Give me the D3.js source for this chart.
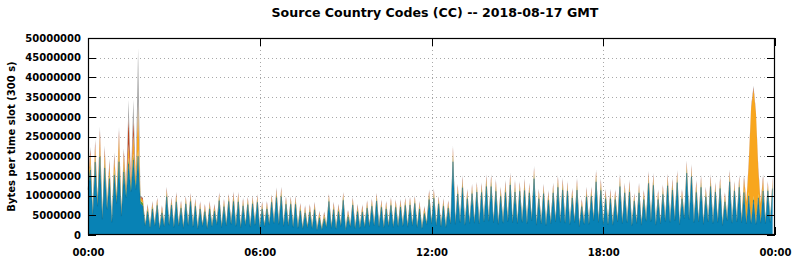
<!DOCTYPE html>
<html>
<head>
<meta charset="utf-8">
<title>Source Country Codes (CC)</title>
<style>
body { margin: 0; background: #fff; }
text { font-family: "DejaVu Sans", sans-serif; font-weight: bold; fill: #000; }
.grid line { stroke: #a8a8a8; stroke-dasharray: 1,3; shape-rendering: crispEdges; }
.axis line { stroke: #000; shape-rendering: crispEdges; }
.axis path { display: none; }
</style>
</head>
<body>
<script src="https://d3js.org/d3.v7.min.js"></script>
<script>

// Bytes per 300 s slot, in millions, 288 slots starting 2018-08-17 00:00 GMT
var blue = [
  11.5,16.5,4.8,18.5,7.3,19.8,4.0,17.0,6.5,14.3,3.2,15.2,8.0,18.6,4.8,16.0,
  9.5,18.0,11.0,19.0,11.5,20.0,8.0,7.4,2.3,5.9,1.8,6.6,2.3,7.5,1.5,5.6,
  2.1,9.7,2.5,7.6,1.9,8.4,2.3,6.8,1.7,7.9,2.4,8.5,2.0,7.3,1.5,6.6,
  2.2,5.9,1.6,6.6,2.1,6.0,2.6,8.7,1.9,7.2,2.3,8.5,2.7,8.5,2.2,8.4,
  1.8,7.4,2.4,7.7,2.0,7.9,2.5,8.3,1.7,6.6,2.1,6.6,2.6,8.3,2.9,9.5,
  2.7,9.7,2.2,7.8,2.3,7.8,1.9,7.8,1.7,6.1,1.5,5.6,1.8,5.8,1.6,6.4,
  1.2,4.3,1.3,4.1,1.9,8.5,1.7,6.4,1.5,5.9,2.2,8.8,1.3,4.6,2.0,7.6,
  1.6,5.9,1.7,5.8,1.9,6.8,2.1,7.3,2.3,8.6,2.0,7.0,1.8,6.6,2.2,7.5,
  1.9,7.0,2.1,7.1,2.2,7.5,2.0,7.6,2.3,8.0,1.9,6.6,1.6,5.4,2.6,9.0,
  2.8,9.3,2.3,7.9,2.1,7.3,1.9,6.8,2.8,18.6,2.7,10.4,3.1,12.0,2.5,9.2,
  2.9,10.5,3.0,10.9,2.8,10.8,3.3,12.3,3.5,12.3,3.1,11.1,2.7,9.8,3.0,10.8,
  3.4,12.7,3.1,10.9,2.9,11.1,3.2,11.3,2.8,10.7,3.6,14.3,2.5,9.2,2.8,10.5,
  2.4,8.8,2.8,10.7,3.3,12.1,3.2,11.4,3.0,11.2,2.6,9.4,3.2,11.4,2.1,7.2,
  2.7,9.7,2.7,9.8,3.6,13.5,3.2,11.3,2.6,9.2,2.6,9.2,2.5,9.0,3.3,12.3,
  2.9,10.7,3.1,10.9,2.3,8.6,2.9,10.7,2.5,9.0,3.5,13.1,3.4,12.6,2.5,9.0,
  2.8,10.3,3.4,12.5,3.2,11.4,3.6,13.3,2.6,9.2,4.1,15.7,3.9,14.8,3.1,10.8,
  3.3,12.1,2.7,9.7,3.3,12.3,2.9,10.9,3.2,11.8,2.4,8.4,3.6,13.5,3.0,11.2,
  3.3,12.1,3.1,10.8,2.8,9.9,2.9,8.9,2.7,9.4,3.0,11.2,2.9,11.2,3.2,11.8
];
var green = [
  0.8,1.6,0.4,1.5,0.6,2.0,0.4,1.6,0.5,1.4,0.3,1.5,0.7,2.0,0.4,1.6,
  0.8,1.6,0.9,1.6,0.9,1.6,0.7,0.8,0.3,0.8,0.3,0.8,0.3,0.8,0.3,0.7,
  0.3,1.0,0.3,0.8,0.3,1.0,0.3,0.8,0.3,0.8,0.3,0.9,0.3,0.8,0.3,0.7,
  0.3,0.8,0.3,0.8,0.3,0.7,0.3,0.9,0.3,0.8,0.3,0.8,0.3,1.0,0.3,1.0,
  0.3,0.8,0.3,0.8,0.3,0.9,0.3,0.8,0.3,0.7,0.3,0.8,0.3,0.8,0.3,1.0,
  0.3,1.0,0.3,0.8,0.3,0.8,0.3,0.9,0.3,0.8,0.2,0.7,0.3,0.8,0.3,0.8,
  0.2,0.7,0.2,0.7,0.3,0.8,0.3,0.8,0.3,0.8,0.3,0.9,0.2,0.7,0.3,0.8,
  0.3,0.8,0.3,0.7,0.3,0.8,0.3,0.8,0.3,0.9,0.3,0.8,0.3,0.8,0.3,0.8,
  0.3,0.8,0.3,0.8,0.3,0.8,0.3,0.9,0.3,0.8,0.3,0.8,0.2,0.7,0.3,1.0,
  0.3,1.0,0.3,0.8,0.3,0.8,0.3,0.8,0.3,1.6,0.3,1.0,0.3,1.2,0.3,1.0,
  0.3,1.0,0.3,1.1,0.3,1.0,0.4,1.2,0.4,1.2,0.3,1.2,0.3,1.0,0.3,1.2,
  0.4,1.2,0.3,1.2,0.3,1.0,0.3,1.2,0.3,1.0,0.4,1.3,0.3,1.0,0.3,1.0,
  0.3,1.0,0.3,1.0,0.4,1.2,0.3,1.2,0.3,1.0,0.3,1.0,0.3,1.2,0.3,0.8,
  0.3,1.0,0.3,1.0,0.4,1.2,0.3,1.2,0.3,1.0,0.3,1.0,0.3,1.0,0.4,1.2,
  0.3,1.0,0.3,1.2,0.3,0.8,0.3,1.0,0.3,1.0,0.4,1.2,0.4,1.2,0.3,1.0,
  0.3,1.0,0.4,1.2,0.3,1.2,0.4,1.2,0.3,1.0,0.4,1.3,0.4,1.2,0.3,1.2,
  0.3,1.2,0.3,1.0,0.4,1.2,0.3,1.0,0.3,1.2,0.3,1.0,0.4,1.2,0.3,1.0,
  0.3,1.2,0.3,1.2,0.3,1.0,0.3,1.0,0.3,1.0,0.3,1.2,0.3,1.0,0.3,1.2
];
var orange = [
  1.0,2.4,0.5,2.5,0.7,3.4,0.4,2.3,0.6,2.0,0.3,2.5,0.8,4.5,0.5,2.6,
  1.0,3.5,1.2,5.0,1.5,11.4,0.8,0.7,0.2,0.5,0.2,0.5,0.2,0.5,0.2,0.5,
  0.2,0.6,0.2,0.5,0.2,0.6,0.2,0.5,0.2,0.5,0.2,0.5,0.2,0.5,0.2,0.5,
  0.2,0.5,0.2,0.5,0.2,0.5,0.2,0.5,0.2,0.5,0.2,0.5,0.2,0.6,0.2,0.6,
  0.2,0.5,0.2,0.5,0.2,0.5,0.2,0.5,0.2,0.5,0.2,0.5,0.2,0.5,0.2,0.6,
  0.2,0.6,0.2,0.5,0.2,0.5,0.2,0.5,0.2,0.5,0.2,0.5,0.2,0.5,0.2,0.5,
  0.2,0.5,0.2,0.5,0.2,0.5,0.2,0.5,0.2,0.5,0.2,0.5,0.2,0.5,0.2,0.5,
  0.2,0.5,0.2,0.5,0.2,0.5,0.2,0.5,0.2,0.5,0.2,0.5,0.2,0.5,0.2,0.5,
  0.2,0.5,0.2,0.5,0.2,0.5,0.2,0.5,0.2,0.5,0.2,0.5,0.2,0.5,0.2,0.6,
  0.2,0.6,0.2,0.5,0.2,0.5,0.2,0.5,0.2,1.0,0.2,0.6,0.2,0.8,0.2,0.6,
  0.2,0.6,0.2,0.6,0.2,0.6,0.2,0.8,0.2,0.8,0.2,0.8,0.2,0.6,0.2,0.8,
  0.2,0.8,0.2,0.8,0.2,0.6,0.2,0.8,0.2,0.6,0.2,0.8,0.2,0.6,0.2,0.6,
  0.2,0.6,0.2,0.6,0.2,0.8,0.2,0.8,0.2,0.6,0.2,0.6,0.2,0.8,0.2,0.5,
  0.2,0.6,0.2,0.6,0.2,0.8,0.2,0.8,0.2,0.6,0.2,0.6,0.2,0.6,0.2,0.8,
  0.2,0.6,0.2,0.8,0.2,0.5,0.2,0.6,0.2,0.6,0.2,0.8,0.2,0.8,0.2,0.6,
  0.2,0.6,0.2,0.8,0.2,0.8,0.2,0.8,0.2,0.6,0.2,0.8,0.2,0.8,0.2,0.8,
  0.2,0.8,0.2,0.6,0.2,0.8,0.2,0.6,0.2,0.8,0.2,0.6,0.2,0.8,0.2,0.6,
  0.2,0.8,0.5,2.0,5.0,7.0,29.0,27.0,28.0,6.0,4.5,1.8,0.4,0.6,0.2,0.8
];
var red = [
  0.4,1.2,0.2,1.2,0.2,1.5,0.1,1.2,0.2,1.1,0.1,1.1,0.3,1.5,0.2,1.1,
  0.4,7.0,0.5,4.0,0.6,0.8,0.3,0.4,0.1,0.5,0.1,0.5,0.1,0.5,0.1,0.5,
  0.1,0.6,0.1,0.5,0.1,0.6,0.1,0.5,0.1,0.5,0.1,0.5,0.1,0.5,0.1,0.5,
  0.1,0.5,0.1,0.5,0.1,0.5,0.1,0.5,0.1,0.5,0.1,0.5,0.1,0.6,0.1,0.6,
  0.1,0.5,0.1,0.5,0.1,0.5,0.1,0.5,0.1,0.5,0.1,0.5,0.1,0.5,0.1,0.6,
  0.1,0.6,0.1,0.5,0.1,0.5,0.1,0.5,0.1,0.5,0.1,0.5,0.1,0.5,0.1,0.5,
  0.1,0.4,0.1,0.4,0.1,0.5,0.1,0.5,0.1,0.5,0.1,0.5,0.1,0.4,0.1,0.5,
  0.1,0.5,0.1,0.5,0.1,0.5,0.1,0.5,0.1,0.5,0.1,0.5,0.1,0.5,0.1,0.5,
  0.1,0.5,0.1,0.5,0.1,0.5,0.1,0.5,0.1,0.5,0.1,0.5,0.1,0.5,0.1,0.6,
  0.1,0.6,0.1,0.5,0.1,0.5,0.1,0.5,0.1,1.0,0.1,0.6,0.1,0.7,0.1,0.6,
  0.1,0.6,0.1,0.6,0.1,0.6,0.1,0.7,0.1,0.7,0.1,0.7,0.1,0.6,0.1,0.7,
  0.1,0.7,0.1,0.7,0.1,0.6,0.1,0.7,0.1,0.6,0.1,0.7,0.1,0.6,0.1,0.6,
  0.1,0.6,0.1,0.6,0.1,0.7,0.1,0.7,0.1,0.6,0.1,0.6,0.1,0.7,0.1,0.5,
  0.1,0.6,0.1,0.6,0.1,0.7,0.1,0.7,0.1,0.6,0.1,0.6,0.1,0.6,0.1,0.7,
  0.1,0.6,0.1,0.7,0.1,0.5,0.1,0.6,0.1,0.6,0.1,0.7,0.1,0.7,0.1,0.6,
  0.1,0.6,0.1,0.7,0.1,0.7,0.1,0.7,0.1,0.6,0.1,0.7,0.1,0.7,0.1,0.7,
  0.1,0.7,0.1,0.6,0.1,0.7,0.1,0.6,0.1,0.7,0.1,0.6,0.1,0.7,0.1,0.6,
  0.1,0.7,0.1,0.7,0.2,0.6,0.3,0.6,0.3,0.6,0.2,0.7,0.1,0.6,0.1,0.7
];
var gray = [
  0.3,0.7,0.1,0.7,0.2,0.9,0.1,0.7,0.2,0.6,0.1,0.7,0.2,0.9,0.1,0.7,
  0.3,4.2,0.4,4.7,0.5,13.6,0.2,0.2,0.1,0.3,0.1,0.3,0.1,0.3,0.1,0.3,
  0.1,0.4,0.1,0.3,0.1,0.4,0.1,0.3,0.1,0.3,0.1,0.3,0.1,0.3,0.1,0.3,
  0.1,0.3,0.1,0.3,0.1,0.3,0.1,0.3,0.1,0.3,0.1,0.3,0.1,0.4,0.1,0.4,
  0.1,0.3,0.1,0.3,0.1,0.3,0.1,0.3,0.1,0.3,0.1,0.3,0.1,0.3,0.1,0.4,
  0.1,0.4,0.1,0.3,0.1,0.3,0.1,0.3,0.1,0.3,0.1,0.3,0.1,0.3,0.1,0.3,
  0.1,0.3,0.1,0.3,0.1,0.3,0.1,0.3,0.1,0.3,0.1,0.3,0.1,0.3,0.1,0.3,
  0.1,0.3,0.1,0.3,0.1,0.3,0.1,0.3,0.1,0.3,0.1,0.3,0.1,0.3,0.1,0.3,
  0.1,0.3,0.1,0.3,0.1,0.3,0.1,0.3,0.1,0.3,0.1,0.3,0.1,0.3,0.1,0.4,
  0.1,0.4,0.1,0.3,0.1,0.3,0.1,0.3,0.1,0.6,0.1,0.4,0.1,0.5,0.1,0.4,
  0.1,0.4,0.1,0.4,0.1,0.4,0.1,0.5,0.1,0.5,0.1,0.5,0.1,0.4,0.1,0.5,
  0.1,0.5,0.1,0.5,0.1,0.4,0.1,0.5,0.1,0.4,0.1,0.5,0.1,0.4,0.1,0.4,
  0.1,0.4,0.1,0.4,0.1,0.5,0.1,0.5,0.1,0.4,0.1,0.4,0.1,0.5,0.1,0.3,
  0.1,0.4,0.1,0.4,0.1,0.5,0.1,0.5,0.1,0.4,0.1,0.4,0.1,0.4,0.1,0.5,
  0.1,0.4,0.1,0.5,0.1,0.3,0.1,0.4,0.1,0.4,0.1,0.5,0.1,0.5,0.1,0.4,
  0.1,0.4,0.1,0.5,0.1,0.5,0.1,0.5,0.1,0.4,0.1,0.5,0.1,0.5,0.1,0.5,
  0.1,0.5,0.1,0.4,0.1,0.5,0.1,0.4,0.1,0.5,0.1,0.4,0.1,0.5,0.1,0.4,
  0.1,0.5,0.1,0.5,0.2,0.4,0.3,0.4,0.2,0.4,0.1,0.5,0.1,0.4,0.1,0.5
];

var seriesKeys = ["blue", "green", "orange", "red", "gray"];
var seriesFill = ["#0882b5", "#5c9c34", "#f8a61e", "#bc431c", "#a3a3a3"];
var yTicks = [0, 5000000, 10000000, 15000000, 20000000, 25000000,
              30000000, 35000000, 40000000, 45000000, 50000000];
var xTickHours = [0, 6, 12, 18, 24];

// Set graph margins and dimensions
var margin = {top: 38, right: 19, bottom: 25, left: 88},
    width = 794 - margin.left - margin.right,
    height = 260 - margin.top - margin.bottom;

var day0 = new Date(Date.UTC(2018, 7, 17)),
    day1 = new Date(Date.UTC(2018, 7, 18));
var slots = d3.utcMinute.every(5).range(day0, day1);

// Build rows for the stack
var rows = slots.map(function(t, i) {
  return {time: t, blue: blue[i] * 1e6, green: green[i] * 1e6,
          orange: orange[i] * 1e6, red: red[i] * 1e6, gray: gray[i] * 1e6};
});

var x = d3.scaleUtc().domain([day0, day1]).range([0, width]);
var y = d3.scaleLinear().domain([0, 50000000]).range([height, 0]);

var svg = d3.select("body").append("svg")
    .attr("width", 794)
    .attr("height", 260)
  .append("g")
    .attr("transform", "translate(" + margin.left + "," + margin.top + ")");

// Title and y label
svg.append("text")
    .attr("x", 347)
    .attr("y", -21)
    .attr("text-anchor", "middle")
    .style("font-size", "12.6px")
    .text("Source Country Codes (CC) -- 2018-08-17 GMT");

svg.append("text")
    .attr("transform", "translate(" + (15 - margin.left) + "," + (height / 2) + ")rotate(-90)")
    .attr("text-anchor", "middle")
    .style("font-size", "10px")
    .text("Bytes per time slot (300 s)");

// Dotted grid
var tickDates = xTickHours.map(function(h) { return d3.utcHour.offset(day0, h); });
var grid = svg.append("g").attr("class", "grid");
grid.selectAll(".gy")
    .data(yTicks.slice(1, -1))
  .enter().append("line")
    .attr("x1", 0).attr("x2", width)
    .attr("y1", function(d) { return Math.round(y(d)) + 0.5; })
    .attr("y2", function(d) { return Math.round(y(d)) + 0.5; });
grid.selectAll(".gx")
    .data(tickDates.slice(1, -1))
  .enter().append("line")
    .attr("y1", 0).attr("y2", height)
    .attr("x1", function(d) { return Math.round(x(d)) + 0.5; })
    .attr("x2", function(d) { return Math.round(x(d)) + 0.5; });

// Stacked areas
var stack = d3.stack().keys(seriesKeys);
var layers = stack(rows);

var area = d3.area()
    .x(function(d) { return x(d.data.time); })
    .y0(function(d) { return y(d[0]); })
    .y1(function(d) { return y(d[1]); });

svg.selectAll(".layer")
    .data(layers)
  .enter().append("path")
    .attr("class", "layer")
    .attr("d", area)
    .attr("fill", function(d, i) { return seriesFill[i]; });

// thin dark edge along the top of the blue layer
svg.append("path")
    .datum(layers[0])
    .attr("d", d3.line()
      .x(function(d) { return x(d.data.time); })
      .y(function(d) { return y(d[1]); }))
    .attr("fill", "none")
    .attr("stroke", "#06628a")
    .attr("stroke-width", 0.4);

// Axes, ticks pointing inwards on all four sides
svg.append("g")
    .attr("class", "axis")
    .call(d3.axisLeft(y).tickValues(yTicks).tickSize(-8).tickPadding(7)
      .tickFormat(d3.format("d")))
    .selectAll("text").style("font-size", "10px");

svg.append("g")
    .attr("class", "axis")
    .attr("transform", "translate(" + width + ",0)")
    .call(d3.axisRight(y).tickValues(yTicks).tickSize(-8).tickFormat(""));

svg.append("g")
    .attr("class", "axis")
    .attr("transform", "translate(0," + height + ")")
    .call(d3.axisBottom(x).tickValues(tickDates).tickSize(-8).tickPadding(14)
      .tickFormat(d3.utcFormat("%H:%M")))
    .selectAll("text").style("font-size", "10px");

svg.append("g")
    .attr("class", "axis")
    .call(d3.axisTop(x).tickValues(tickDates).tickSize(-8).tickFormat(""));

// Frame
svg.append("rect")
    .attr("x", 0.5).attr("y", 0.5)
    .attr("width", width - 1).attr("height", height - 1)
    .attr("fill", "none")
    .attr("stroke", "#000")
    .attr("stroke-width", 1.2);

</script>
</body>
</html>
